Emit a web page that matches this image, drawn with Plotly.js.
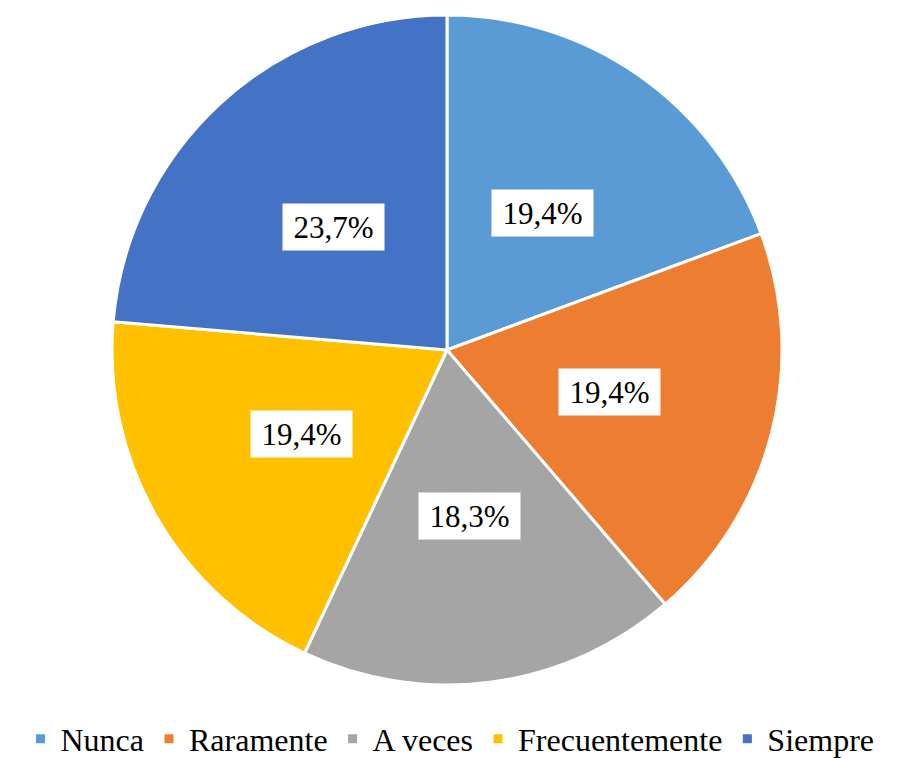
<!DOCTYPE html>
<html>
<head>
<meta charset="utf-8">
<script src="https://cdn.plot.ly/plotly-3.0.1.min.js"></script>
<style>html,body{margin:0;padding:0;background:#fff}#chart{width:900px;height:758px}</style>
</head>
<body>
<div id="chart"></div>
<script>
const categories = ["Nunca", "Raramente", "A veces", "Frecuentemente", "Siempre"];
const counts = [18, 18, 17, 18, 22];
const percentLabels = ["19,4%", "19,4%", "18,3%", "19,4%", "23,7%"];
const colors = ["#5B9BD5", "#ED7D31", "#A5A5A5", "#FFC000", "#4472C4"];

const W = 900, H = 758;
const cx = 447, cy = 350, R = 335;
const domX = [(cx - R) / W, (cx + R) / W];
const domY = [(H - (cy + R)) / H, (H - (cy - R)) / H];

const serif = "Times New Roman, Liberation Serif, serif";

const total = counts.reduce((a, b) => a + b, 0);
let cum = 0;
const annotations = counts.map((v, i) => {
  const mid = (cum + v / 2) / total * 2 * Math.PI;
  cum += v;
  const px = cx + 0.5 * R * Math.sin(mid);
  const py = cy - 0.5 * R * Math.cos(mid);
  return {
    x: px / W, y: (H - py) / H, xref: "paper", yref: "paper",
    xanchor: "center", yanchor: "middle",
    text: percentLabels[i], showarrow: false,
    bgcolor: "#ffffff", width: 99, height: 44,
    font: {family: serif, size: 31, color: "#000"}
  };
});

const trace = {
  type: "pie",
  labels: categories,
  values: counts,
  sort: false,
  direction: "clockwise",
  rotation: 0,
  textinfo: "none",
  hoverinfo: "label+percent",
  marker: {colors: colors, line: {color: "#ffffff", width: 3}},
  domain: {x: domX, y: domY}
};

const layout = {
  width: W, height: H,
  margin: {l: 0, r: 0, t: 0, b: 0, autoexpand: false},
  paper_bgcolor: "#fff",
  showlegend: true,
  legend: {
    orientation: "h", x: 0.5, xanchor: "center", y: (H - 739) / H, yanchor: "middle",
    font: {family: serif, size: 32, color: "#000"},
    itemwidth: 30, tracegroupgap: 0
  },
  annotations: annotations
};

Plotly.newPlot("chart", [trace], layout, {displayModeBar: false, staticPlot: true});
</script>
</body>
</html>
